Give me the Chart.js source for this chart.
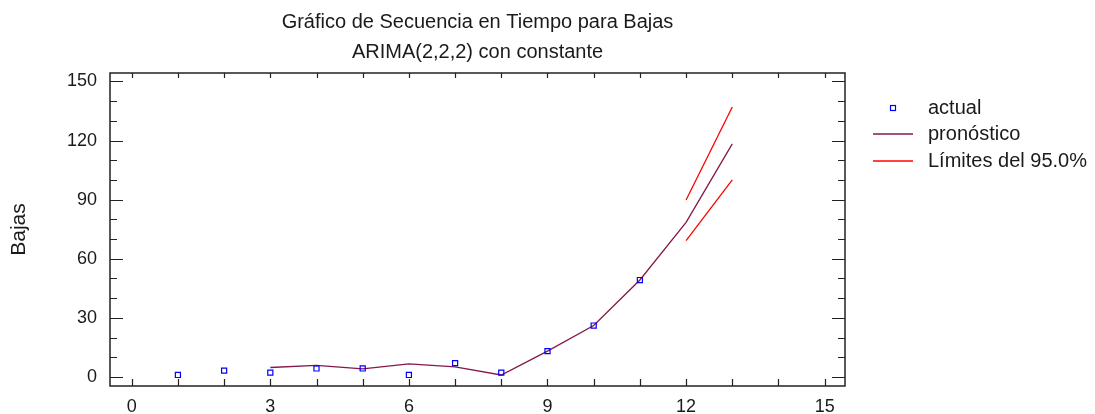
<!DOCTYPE html>
<html>
<head>
<meta charset="utf-8">
<script src="https://cdn.jsdelivr.net/npm/chart.js@4"></script>
<style>
html,body{margin:0;padding:0;background:#fff;}
#wrap{width:1095px;height:414px;}
</style>
</head>
<body>
<div id="wrap"><canvas id="c" width="1095" height="414"></canvas></div>
<script>
const titleLines = ['Gráfico de Secuencia en Tiempo para Bajas', 'ARIMA(2,2,2) con constante'];
const yAxisTitle = 'Bajas';
const legendLabels = ['actual', 'pronóstico', 'Límites del 95.0%'];

const xActual = [1, 2, 3, 4, 5, 6, 7, 8, 9, 10, 11];
const actual = [1.0, 3.2, 2.2, 4.3, 4.3, 1.0, 7.0, 2.2, 13.1, 26.1, 49.2];

const xForecast = [3, 4, 5, 6, 7, 8, 9, 10, 11, 12, 13];
const forecast = [4.8, 5.9, 4.1, 6.6, 5.1, 1.0, 13.1, 26.1, 49.2, 78.5, 118.3];

const xLimits = [12, 13];
const upper = [89.8, 137.0];
const lower = [69.2, 100.0];

const xTicks = [0, 3, 6, 9, 12, 15];
const yTicks = [0, 30, 60, 90, 120, 150];

const FONT = "'Liberation Sans', Arial, sans-serif";
const TEXT = '#1a1a1a';
const BLUE = '#0000ff';
const MAROON = '#85184a';
const RED = '#ff0000';

const pts = (xs, ys) => xs.map((x, i) => ({x: x, y: ys[i]}));

const frame = {
  id: 'frame',
  afterDraw(chart) {
    const ctx = chart.ctx;
    const a = chart.chartArea;
    const xs = chart.scales.x, ys = chart.scales.y;
    ctx.save();
    ctx.strokeStyle = '#222';
    ctx.lineWidth = 1.5;
    ctx.strokeRect(a.left, a.top, a.right - a.left, a.bottom - a.top);
    ctx.lineWidth = 1.2;
    ctx.beginPath();
    for (let v = 0; v <= 150; v += 10) {
      const y = Math.round(ys.getPixelForValue(v)) + 0.5;
      const len = (v % 30 === 0) ? 13 : 7;
      ctx.moveTo(a.left, y); ctx.lineTo(a.left + len, y);
      ctx.moveTo(a.right, y); ctx.lineTo(a.right - len, y);
    }
    for (let v = 0; v <= 15; v += 1) {
      const x = Math.round(xs.getPixelForValue(v)) + 0.5;
      ctx.moveTo(x, a.bottom); ctx.lineTo(x, a.bottom - 7);
      ctx.moveTo(x, a.top); ctx.lineTo(x, a.top + 5);
    }
    ctx.stroke();

    // legend
    ctx.font = '20px ' + FONT;
    ctx.fillStyle = TEXT;
    ctx.textBaseline = 'middle';
    ctx.textAlign = 'left';
    const lx = 928;
    const rows = [108, 134, 161];
    ctx.strokeStyle = BLUE; ctx.lineWidth = 1.2;
    ctx.strokeRect(890.5, 105.5, 5, 5);
    ctx.strokeStyle = MAROON; ctx.lineWidth = 1.3;
    ctx.beginPath(); ctx.moveTo(873, rows[1]); ctx.lineTo(913, rows[1]); ctx.stroke();
    ctx.strokeStyle = RED;
    ctx.beginPath(); ctx.moveTo(873, rows[2]); ctx.lineTo(913, rows[2]); ctx.stroke();
    legendLabels.forEach((t, i) => ctx.fillText(t, lx, rows[i]));
    ctx.restore();
  }
};

new Chart(document.getElementById('c'), {
  type: 'line',
  data: {
    datasets: [
      { label: legendLabels[0], data: pts(xActual, actual), showLine: false,
        pointStyle: 'rect', pointRadius: 3.6, pointBorderColor: BLUE, pointBackgroundColor: 'rgba(0,0,0,0)',
        pointBorderWidth: 1.2, borderColor: BLUE, order: 0 },
      { label: legendLabels[1], data: pts(xForecast, forecast), borderColor: MAROON, borderWidth: 1.3,
        pointRadius: 0, tension: 0, fill: false, order: 1 },
      { label: legendLabels[2], data: pts(xLimits, upper), borderColor: RED, borderWidth: 1.3,
        pointRadius: 0, tension: 0, fill: false, order: 2 },
      { label: legendLabels[2], data: pts(xLimits, lower), borderColor: RED, borderWidth: 1.3,
        pointRadius: 0, tension: 0, fill: false, order: 2 }
    ]
  },
  options: {
    responsive: false,
    animation: false,
    layout: { padding: { left: 0, right: 250, top: 0, bottom: 0 } },
    plugins: {
      legend: { display: false },
      tooltip: { enabled: false },
      title: {
        display: true, text: titleLines, fullSize: false, color: TEXT,
        font: { family: FONT, size: 20, weight: 'normal', lineHeight: 1.5 },
        padding: { top: 7, bottom: 6 }
      }
    },
    scales: {
      x: {
        type: 'linear', min: -0.47, max: 15.44,
        afterBuildTicks: s => { s.ticks = xTicks.map(v => ({value: v})); },
        afterFit: s => { s.height = 28; },
        grid: { display: false, drawTicks: false },
        border: { display: false },
        ticks: { color: TEXT, font: { family: FONT, size: 18 }, padding: 10, maxRotation: 0 }
      },
      y: {
        type: 'linear', min: -4.6, max: 154.3,
        afterBuildTicks: s => { s.ticks = yTicks.map(v => ({value: v})); },
        afterFit: s => { s.width = 110; },
        grid: { display: false, drawTicks: false },
        border: { display: false },
        title: { display: true, text: yAxisTitle, color: TEXT, font: { family: FONT, size: 21 }, padding: { top: 7, bottom: 0 } },
        ticks: { color: TEXT, font: { family: FONT, size: 18 }, padding: 13 }
      }
    }
  },
  plugins: [frame]
});
</script>
</body>
</html>
